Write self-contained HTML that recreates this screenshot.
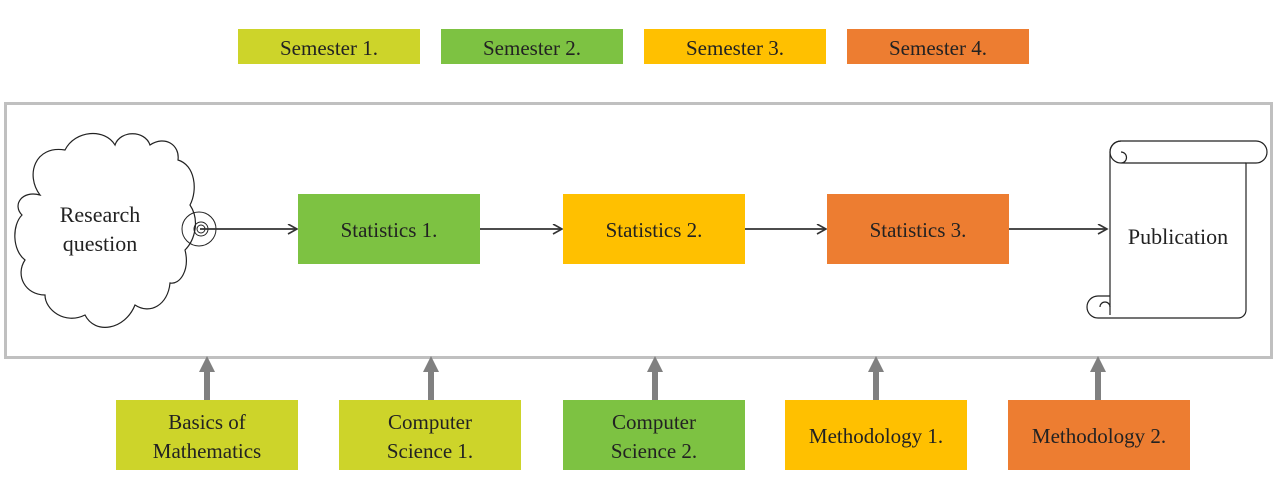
<!DOCTYPE html>
<html><head><style>
body{margin:0;width:1273px;height:492px;background:#fff;overflow:hidden;font-family:"Liberation Serif",serif;}
.b{position:absolute;display:flex;align-items:center;justify-content:center;text-align:center;font-size:21px;color:#222;line-height:29px;padding-top:3px;box-sizing:border-box}
</style></head><body>
<div class="b" style="left:238px;top:29px;width:182px;height:35px;background:#cdd42a">Semester 1.</div>
<div class="b" style="left:441px;top:29px;width:182px;height:35px;background:#7dc242">Semester 2.</div>
<div class="b" style="left:644px;top:29px;width:182px;height:35px;background:#ffc000">Semester 3.</div>
<div class="b" style="left:847px;top:29px;width:182px;height:35px;background:#ed7d31">Semester 4.</div>
<div style="position:absolute;left:4px;top:102px;width:1263px;height:251px;border:3px solid #c0c0c0"></div>
<svg style="position:absolute;left:0;top:0" width="1273" height="492">
<defs><marker id="a" markerWidth="12" markerHeight="12" refX="10" refY="5" orient="auto" markerUnits="userSpaceOnUse"><path d="M1,0 L10,5 L1,10" fill="none" stroke="#333" stroke-width="1.6"/></marker></defs>
<path d="M40,195 C25,175 35,145 65,150 C75,130 105,128 115,145 C120,130 145,130 150,145 C165,135 180,145 178,160 C195,165 198,190 190,205 C200,220 195,240 185,250 C190,270 180,285 170,283 C168,305 150,315 135,305 C125,330 95,335 85,315 C65,325 45,310 45,295 C25,295 15,275 25,260 C12,250 12,225 22,215 C12,205 22,190 40,195 Z" fill="#fff" stroke="#222" stroke-width="1.2"/>
<circle cx="199" cy="229" r="17" fill="none" stroke="#222" stroke-width="1"/>
<circle cx="201" cy="229" r="7" fill="none" stroke="#222" stroke-width="1"/>
<circle cx="201" cy="229" r="4" fill="none" stroke="#222" stroke-width="1"/>
<g stroke="#333" stroke-width="1.8" marker-end="url(#a)"><line x1="200" y1="229" x2="297" y2="229"/><line x1="480" y1="229" x2="562" y2="229"/><line x1="745" y1="229" x2="826" y2="229"/><line x1="1009" y1="229" x2="1107" y2="229"/></g>
<g fill="none" stroke="#222" stroke-width="1.2">
<path d="M1110,315 L1110,152 A11,11 0 0 1 1121,141 L1256,141 A11,11 0 0 1 1256,163 L1246,163 L1246,310 A8,8 0 0 1 1238,318 L1098,318 A11,11 0 0 1 1098,296 L1110,296"/>
<path d="M1121,141 A11,11 0 0 0 1121,163 L1246,163 M1121,163 A5,5 0 0 0 1121,152"/>
<path d="M1110,307 A5,5 0 0 0 1100,307"/>
</g>
<g fill="#808080"><rect x="204" y="370" width="6" height="30"/><polygon points="199,372 215,372 207,356"/>
<rect x="428" y="370" width="6" height="30"/><polygon points="423,372 439,372 431,356"/>
<rect x="652" y="370" width="6" height="30"/><polygon points="647,372 663,372 655,356"/>
<rect x="873" y="370" width="6" height="30"/><polygon points="868,372 884,372 876,356"/>
<rect x="1095" y="370" width="6" height="30"/><polygon points="1090,372 1106,372 1098,356"/></g>
</svg>
<div class="b" style="left:25px;top:197px;width:150px;height:60px;font-size:22px">Research<br>question</div>
<div class="b" style="left:1108px;top:220px;width:140px;height:30px;font-size:22px">Publication</div>
<div class="b" style="left:298px;top:194px;width:182px;height:70px;background:#7dc242">Statistics 1.</div>
<div class="b" style="left:563px;top:194px;width:182px;height:70px;background:#ffc000">Statistics 2.</div>
<div class="b" style="left:827px;top:194px;width:182px;height:70px;background:#ed7d31">Statistics 3.</div>
<div class="b" style="left:116px;top:400px;width:182px;height:70px;background:#cdd42a">Basics of<br>Mathematics</div>
<div class="b" style="left:339px;top:400px;width:182px;height:70px;background:#cdd42a">Computer<br>Science 1.</div>
<div class="b" style="left:563px;top:400px;width:182px;height:70px;background:#7dc242">Computer<br>Science 2.</div>
<div class="b" style="left:785px;top:400px;width:182px;height:70px;background:#ffc000">Methodology 1.</div>
<div class="b" style="left:1008px;top:400px;width:182px;height:70px;background:#ed7d31">Methodology 2.</div>
</body></html>
